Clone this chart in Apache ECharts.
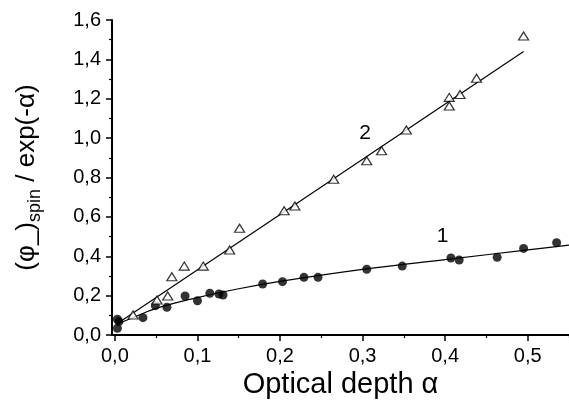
<!DOCTYPE html>
<html>
<head>
<meta charset="utf-8">
<script src="https://cdn.jsdelivr.net/npm/echarts@6/dist/echarts.min.js"></script>
<style>html,body{margin:0;padding:0;background:#fff;}#c{width:569px;height:410px;}</style>
</head>
<body>
<div id="c"></div>
<script>
// Series 1: filled circles
const s1x = [0.003, 0.003, 0.005, 0.034, 0.049, 0.063, 0.085, 0.100, 0.115, 0.126, 0.131, 0.179, 0.203, 0.229, 0.246, 0.305, 0.348, 0.407, 0.417, 0.463, 0.495, 0.535];
const s1y = [0.080, 0.034, 0.068, 0.088, 0.149, 0.141, 0.198, 0.174, 0.212, 0.208, 0.203, 0.259, 0.271, 0.293, 0.293, 0.334, 0.350, 0.391, 0.381, 0.395, 0.440, 0.469];
// Series 2: open triangles
const s2x = [0.022, 0.051, 0.064, 0.069, 0.084, 0.107, 0.139, 0.151, 0.205, 0.218, 0.265, 0.305, 0.323, 0.353, 0.405, 0.405, 0.418, 0.438, 0.495];
const s2y = [0.102, 0.178, 0.198, 0.296, 0.350, 0.350, 0.432, 0.542, 0.631, 0.655, 0.791, 0.885, 0.936, 1.041, 1.207, 1.163, 1.222, 1.304, 1.519];
// Fit curves
const fit1x = [0.003, 0.02, 0.05, 0.10, 0.15, 0.20, 0.30, 0.40, 0.50, 0.55];
const fit1y = [0.055, 0.085, 0.135, 0.190, 0.235, 0.272, 0.333, 0.383, 0.432, 0.457];
const fit2x = [0.003, 0.495];
const fit2y = [0.059, 1.440];
// Curve labels
const curveLabels = [{text: '1', x: 0.397, y: 0.503}, {text: '2', x: 0.303, y: 1.026}];
// Ticks
const xMajorTicks = [0, 0.1, 0.2, 0.3, 0.4, 0.5];
const xMinorTicks = [0.05, 0.15, 0.25, 0.35, 0.45, 0.55];

const zip = (a, b) => a.map((v, i) => [v, b[i]]);
const fmt = v => v.toFixed(1).replace('.', ',');
const FONT = 'Liberation Sans';

const chart = echarts.init(document.getElementById('c'));
chart.setOption({
  animation: false,
  backgroundColor: '#fff',
  textStyle: {fontFamily: FONT},
  grid: {left: 112, right: 0, top: 20, bottom: 75, containLabel: false},
  xAxis: [{
    type: 'value', min: -0.0035, max: 0.55,
    axisLine: {show: true, onZero: false, lineStyle: {color: '#000', width: 2}},
    axisTick: {show: true, customValues: xMajorTicks, length: 6, lineStyle: {color: '#000', width: 1.5}},
    axisLabel: {show: true, customValues: xMajorTicks, formatter: fmt, color: '#000', fontSize: 20, fontFamily: FONT, margin: 11},
    splitLine: {show: false},
    name: 'Optical depth α', nameLocation: 'middle', nameGap: 35,
    nameTextStyle: {color: '#000', fontSize: 29, fontFamily: FONT, verticalAlign: 'top'}
  }, {
    type: 'value', min: -0.0035, max: 0.55, position: 'bottom',
    axisLine: {show: false},
    axisTick: {show: true, customValues: xMinorTicks, length: 3, lineStyle: {color: '#000', width: 1.2}},
    axisLabel: {show: false},
    splitLine: {show: false}
  }],
  yAxis: {
    type: 'value', min: 0, max: 1.6, interval: 0.2,
    axisLine: {show: true, onZero: false, lineStyle: {color: '#000', width: 2}},
    axisTick: {show: true, length: 6, lineStyle: {color: '#000', width: 1.5}},
    minorTick: {show: true, splitNumber: 2, length: 3, lineStyle: {color: '#000', width: 1.2}},
    axisLabel: {formatter: fmt, color: '#000', fontSize: 20, fontFamily: FONT, margin: 11},
    splitLine: {show: false},
    name: '{a|(φ_)}{s|spin}{a| / exp(-α)}',
    nameLocation: 'middle', nameGap: 68, nameRotate: 90,
    nameTextStyle: {
      color: '#000', fontFamily: FONT,
      rich: {
        a: {fontSize: 26, color: '#000', fontFamily: FONT, lineHeight: 34, verticalAlign: 'middle'},
        s: {fontSize: 18, color: '#000', fontFamily: FONT, lineHeight: 34, verticalAlign: 'bottom', padding: [15, 0, 0, 0]}
      }
    }
  },
  series: [
    {
      type: 'line', data: zip(fit1x, fit1y), smooth: 0.4, showSymbol: false,
      lineStyle: {color: '#000', width: 1.2}, z: 2,
      markPoint: {
        symbol: 'circle', symbolSize: 1,
        itemStyle: {color: 'rgba(0,0,0,0)'},
        label: {show: true, position: 'inside', color: '#000', fontSize: 21, fontFamily: FONT, formatter: p => p.name},
        data: curveLabels.map(c => ({name: c.text, coord: [c.x, c.y]}))
      }
    },
    {
      type: 'line', data: zip(fit2x, fit2y), showSymbol: false,
      lineStyle: {color: '#000', width: 1.2}, z: 2
    },
    {
      type: 'scatter', data: zip(s1x, s1y), symbol: 'circle', symbolSize: 9,
      itemStyle: {color: '#000'}, z: 3
    },
    {
      type: 'scatter', data: zip(s2x, s2y), symbol: 'triangle', symbolSize: [10, 8],
      itemStyle: {color: '#fff', borderColor: '#000', borderWidth: 1.2}, z: 3
    }
  ]
});
</script>
</body>
</html>
